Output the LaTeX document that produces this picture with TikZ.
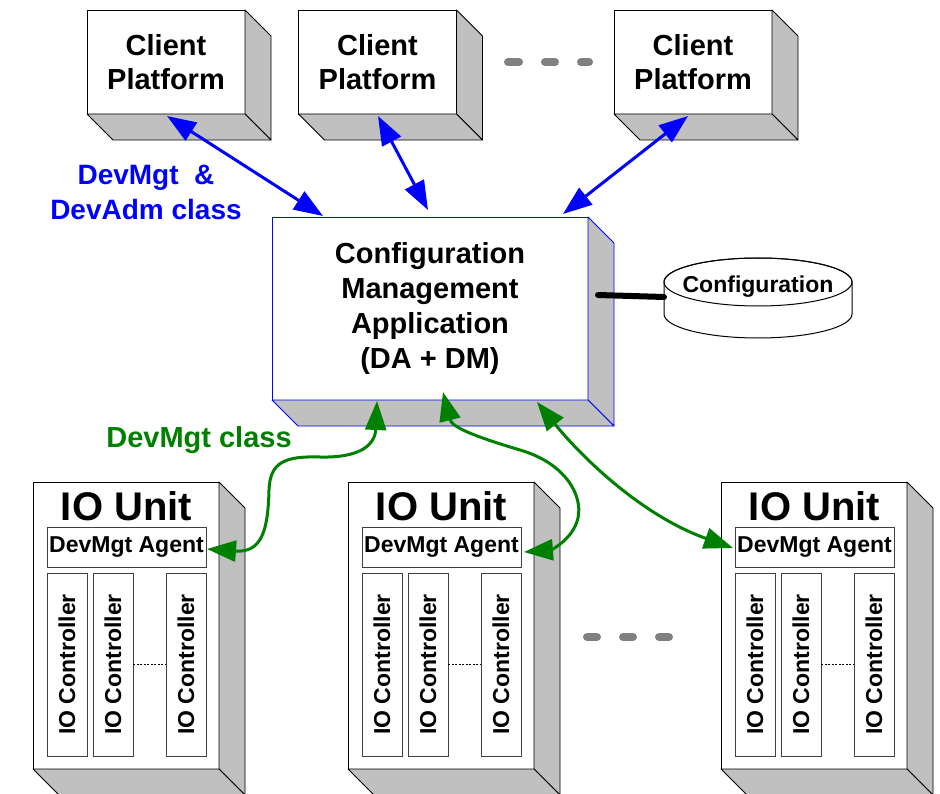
\documentclass[tikz,border=0pt]{standalone}
\usepackage{fontspec}
\setmainfont{Liberation Sans}
\usepackage{graphicx}
\usetikzlibrary{arrows.meta,calc}
\definecolor{sidegray}{HTML}{C0C0C0}
\definecolor{dkgreen}{HTML}{008000}
\definecolor{dotgray}{HTML}{808080}
\definecolor{boxline}{HTML}{404040}
\newcommand{\fsz}[2]{\fontsize{#1pt}{#2pt}\selectfont\bfseries}
\newcommand{\extrude}[3]{%
  \filldraw[fill=sidegray,draw=#3,line width=0.8pt,line join=round]
    (#1.north east) -- ++(#2,#2) -- ($(#1.south east)+(#2,#2)$) -- (#1.south east) -- cycle;
  \filldraw[fill=sidegray,draw=#3,line width=0.8pt,line join=round]
    (#1.south west) -- (#1.south east) -- ++(#2,#2) -- ($(#1.south west)+(#2,#2)$) -- cycle;
}
\tikzset{
  frontbox/.style={draw=black,fill=white,line width=0.8pt,inner sep=0pt,outer sep=0pt,align=center},
  client/.style={frontbox,minimum width=158pt,minimum height=104pt,font=\fsz{29}{34}},
  cmabox/.style={frontbox,draw=blue,minimum width=316pt,minimum height=183pt,font=\fsz{29}{35}},
  unitbox/.style={frontbox,minimum width=186pt,minimum height=287pt},
  agentbox/.style={draw=boxline,fill=white,line width=0.7pt,inner sep=0pt,outer sep=0pt,minimum width=159pt,minimum height=40pt,font=\fsz{23}{23}},
  ctrlbox/.style={draw=boxline,fill=white,line width=0.7pt,inner sep=0pt,outer sep=0pt,minimum width=40pt,minimum height=183pt,font=\fsz{23}{23}},
  bluearrow/.style={draw=blue,line width=3pt,{Triangle[length=29pt,width=21pt]}-{Triangle[length=29pt,width=21pt]}},
  greenarrow/.style={draw=dkgreen,line width=3pt,{Triangle[length=29pt,width=21pt]}-{Triangle[length=29pt,width=21pt]}},
  grdot/.style={draw=dotgray,line width=8pt,line cap=round}
}
\begin{document}
\begin{tikzpicture}[x=1pt,y=-1pt]
\clip (0,0) rectangle (940,794);
\fill[white] (0,0) rectangle (940,794);

% client platforms
\node[client] (cl1) at (166,62) {Client\\Platform};
\node[client] (cl2) at (377.5,62) {Client\\Platform};
\node[client] (cl3) at (693,62) {Client\\Platform};
\extrude{cl1}{26}{black}
\extrude{cl2}{26}{black}
\extrude{cl3}{26}{black}

% dots between clients
\draw[grdot] (508,62) -- (519,62);
\draw[grdot] (545,62) -- (555,62);
\draw[grdot] (581,62) -- (589,62);

% configuration management application
\node[cmabox] (cma) at (430,308.5) {\raisebox{-2pt}{\parbox{316pt}{\centering Configuration\\Management\\Application\\(DA + DM)}}};
\extrude{cma}{26}{blue}

% configuration database
\filldraw[fill=white,line width=1pt]
  (664,282) -- (664,314) arc[start angle=180,end angle=0,x radius=94,y radius=24]
  -- (852,282) arc[start angle=0,end angle=-180,x radius=94,y radius=24] -- cycle;
\draw[line width=1pt] (758,282) ellipse[x radius=94,y radius=24];
\node[font=\fsz{23}{23}] (cfgtext) at (758,287) {Configuration};
\node[minimum width=188pt,minimum height=80pt,inner sep=0pt,outer sep=0pt] (cfgdb) at (758,297) {};
\coordinate (lnstart) at (598,295);
\draw[line width=6pt,line cap=round] (lnstart) -- (cfgdb.west);

% labels
\node[font=\fsz{28}{35},text=blue,align=center] (lblb) at (146,192.5) {DevMgt\ \ \&\\DevAdm class};
\node[font=\fsz{29}{35},text=dkgreen] (lblg) at (199,440) {DevMgt class};

% IO units
\foreach \i/\L in {1/33,2/348,3/721} {
  \node[unitbox] (u\i) at (\L+93,625.5) {};
  \extrude{u\i}{26}{black}
  \node[font=\fsz{40}{40},inner sep=0pt] (t\i) at (\L+93.5,506) {IO Unit};
  \node[agentbox] (a\i) at (\L+93.5,547) {DevMgt Agent};
  \node[ctrlbox] (c\i1) at (\L+34,664.5) {\rotatebox{90}{IO Controller}};
  \node[ctrlbox] (c\i2) at (\L+80,664.5) {\rotatebox{90}{IO Controller}};
  \node[ctrlbox] (c\i3) at (\L+153,664.5) {\rotatebox{90}{IO Controller}};
  \draw[line width=0.6pt,dash pattern=on 2pt off 1.5pt] (c\i2.east) -- (c\i3.west);
}

% dots between IO units
\draw[grdot] (587,637) -- (597,637);
\draw[grdot] (623,637) -- (633,637);
\draw[grdot] (659,637) -- (669,637);

% blue arrows
\draw[bluearrow] ($(cl1.south)+(1,2)$) -- ($(cma.north west)+(51,-1)$);
\draw[bluearrow] ($(cl2.south)+(0.5,2)$) -- ($(cma.north)+(-2,-7)$);
\draw[bluearrow] ($(cl3.south)+(-5,2)$) -- ($(cma.north west)+(291,-3)$);

% green arrows
\draw[greenarrow] ($(cma.south)+(-53,1)$) .. controls (375,445) and (360,458) .. (320,457)
  .. controls (285,456) and (270,462) .. (269,490)
  .. controls (268,530) and (262,553) .. ($(a1.east)+(1,2)$);
\draw[greenarrow] ($(cma.south)+(13,-8)$) .. controls (452,428) and (480,438) .. (520,450)
  .. controls (565,463) and (583,495) .. (578,518)
  .. controls (573,540) and (550,550) .. ($(a2.east)+(3,5)$);
\draw[greenarrow] ($(cma.south)+(107,2)$) .. controls (580,455) and (640,515) .. ($(a3.west)+(-2,1)$);
\end{tikzpicture}
\end{document}
